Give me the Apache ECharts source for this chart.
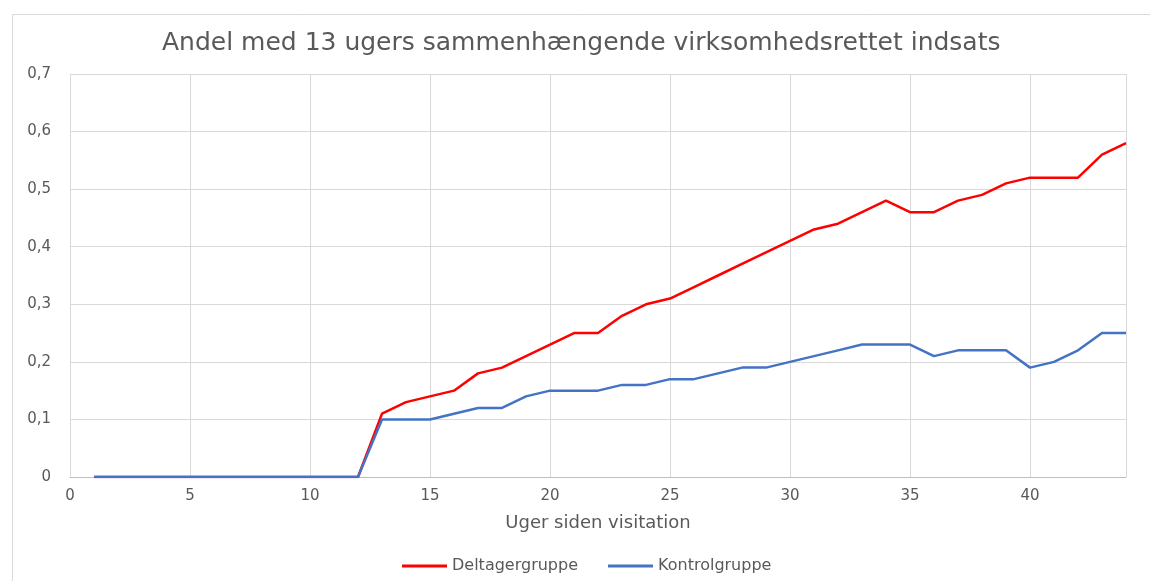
<!DOCTYPE html>
<html>
<head>
<meta charset="utf-8">
<script src="https://cdn.jsdelivr.net/npm/echarts@6/dist/echarts.min.js"></script>
<style>
  html, body { margin: 0; padding: 0; background: #fff; }
  #main { width: 1150px; height: 581px; }
</style>
</head>
<body>
<div id="main"></div>
<script>
var weeks = [1, 2, 3, 4, 5, 6, 7, 8, 9, 10, 11, 12, 13, 14, 15, 16, 17, 18, 19, 20, 21, 22,
    23, 24, 25, 26, 27, 28, 29, 30, 31, 32, 33, 34, 35, 36, 37, 38, 39, 40, 41, 42, 43, 44];
var deltager = [0, 0, 0, 0, 0, 0, 0, 0, 0, 0, 0, 0, 0.11, 0.13, 0.14, 0.15, 0.18, 0.19, 0.21, 0.23, 0.25, 0.25,
    0.28, 0.30, 0.31, 0.33, 0.35, 0.37, 0.39, 0.41, 0.43, 0.44, 0.46, 0.48, 0.46, 0.46, 0.48, 0.49, 0.51, 0.52, 0.52, 0.52, 0.56, 0.58];
var kontrol = [0, 0, 0, 0, 0, 0, 0, 0, 0, 0, 0, 0, 0.10, 0.10, 0.10, 0.11, 0.12, 0.12, 0.14, 0.15, 0.15, 0.15,
    0.16, 0.16, 0.17, 0.17, 0.18, 0.19, 0.19, 0.20, 0.21, 0.22, 0.23, 0.23, 0.23, 0.21, 0.22, 0.22, 0.22, 0.19, 0.20, 0.22, 0.25, 0.25];

var chartDom = document.getElementById('main');
var myChart = echarts.init(chartDom);
var option;

function pairs(vals) {
    return weeks.map(function (w, i) { return [w, vals[i]]; });
}

var font = 'DejaVu Sans, sans-serif';

option = {
    textStyle: { fontFamily: font },
    animation: false,
    graphic: [{
        type: 'rect',
        left: 10,
        top: 12,
        shape: { width: 1160, height: 600 },
        style: { fill: 'none', stroke: '#d9d9d9', lineWidth: 1 },
        silent: true
    }],
    title: {
        text: 'Andel med 13 ugers sammenhængende virksomhedsrettet indsats',
        left: 162,
        top: 31,
        padding: 0,
        textStyle: { fontFamily: font, fontSize: 25, fontWeight: 'normal', color: '#595959' }
    },
    legend: {
        top: 558,
        left: 402,
        padding: 0,
        itemWidth: 45,
        itemHeight: 3,
        itemGap: 30,
        icon: 'rect',
        textStyle: { fontFamily: font, fontSize: 16, color: '#595959' },
        data: ['Deltagergruppe', 'Kontrolgruppe']
    },
    grid: {
        left: 70,
        right: 24,
        top: 74,
        bottom: 104
    },
    xAxis: {
        type: 'value',
        min: 0,
        max: 44,
        interval: 5,
        name: 'Uger siden visitation',
        nameLocation: 'middle',
        nameGap: 37,
        nameTextStyle: { fontFamily: font, fontSize: 18, color: '#595959' },
        axisLine: { lineStyle: { color: '#bfbfbf' } },
        axisTick: { show: false },
        axisLabel: {
            fontFamily: font, fontSize: 15, color: '#595959', margin: 12,
            formatter: function (v) { return v % 5 === 0 ? String(v) : ''; }
        },
        splitLine: { show: true, lineStyle: { color: '#d9d9d9' } }
    },
    yAxis: {
        type: 'value',
        min: 0,
        max: 0.7,
        interval: 0.1,
        axisLine: { show: false },
        axisTick: { show: false },
        axisLabel: {
            fontFamily: font, fontSize: 15, color: '#595959', margin: 19,
            formatter: function (v) { return v === 0 ? '0' : v.toFixed(1).replace('.', ','); }
        },
        splitLine: { lineStyle: { color: '#d9d9d9' } }
    },
    series: [
        {
            name: 'Deltagergruppe',
            type: 'line',
            showSymbol: false,
            color: '#ff0000',
            lineStyle: { width: 2.5, color: '#ff0000' },
            data: pairs(deltager)
        },
        {
            name: 'Kontrolgruppe',
            type: 'line',
            showSymbol: false,
            color: '#4472c4',
            lineStyle: { width: 2.5, color: '#4472c4' },
            data: pairs(kontrol)
        }
    ]
};

option && myChart.setOption(option);
</script>
</body>
</html>
